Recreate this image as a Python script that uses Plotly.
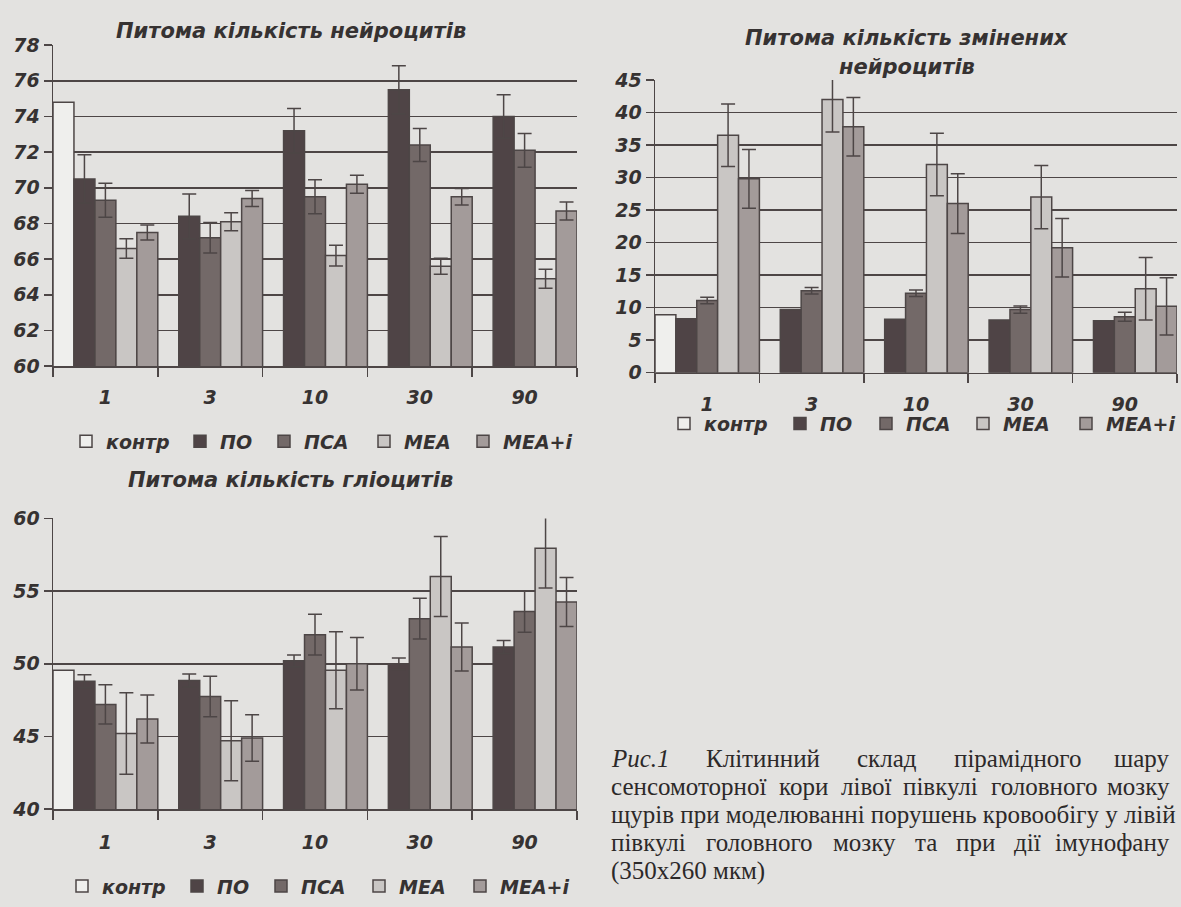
import plotly.graph_objects as go

W, H = 1181, 907

categories = ["1", "3", "10", "30", "90"]
series_names = ["контр", "ПО", "ПСА", "МЕА", "МЕА+і"]
series_colors = ["#efefed", "#4f4446", "#736968", "#c9c6c4", "#a39b9a"]

# Chart 1: Питома кількість нейроцитів
control1 = [74.8, None, None, None, None]
po1 = [70.5, 68.4, 73.2, 75.5, 74.0]
po1_err = [1.35, 1.25, 1.25, 1.35, 1.22]
psa1 = [69.3, 67.2, 69.5, 72.4, 72.1]
psa1_err = [0.95, 0.85, 0.95, 0.93, 0.95]
mea1 = [66.6, 68.1, 66.2, 65.6, 64.9]
mea1_err = [0.55, 0.5, 0.58, 0.45, 0.53]
meai1 = [67.5, 69.4, 70.2, 69.5, 68.7]
meai1_err = [0.42, 0.45, 0.5, 0.46, 0.5]

# Chart 2: Питома кількість змінених нейроцитів
control2 = [8.9, None, None, None, None]
po2 = [8.3, 9.7, 8.2, 8.1, 8.0]
psa2 = [11.1, 12.6, 12.2, 9.7, 8.6]
psa2_err = [0.5, 0.5, 0.5, 0.55, 0.7]
mea2 = [36.5, 42.0, 32.0, 27.0, 12.9]
mea2_err = [4.8, 5.0, 4.8, 4.85, 4.8]
meai2 = [29.8, 37.8, 26.0, 19.2, 10.2]
meai2_err = [4.5, 4.5, 4.6, 4.5, 4.4]

# Chart 3: Питома кількість гліоцитів
control3 = [49.55, None, None, None, None]
po3 = [48.8, 48.85, 50.2, 50.0, 51.15]
po3_err = [0.45, 0.45, 0.4, 0.4, 0.45]
psa3 = [47.2, 47.75, 52.0, 53.1, 53.6]
psa3_err = [1.35, 1.4, 1.4, 1.4, 1.43]
mea3 = [45.2, 44.7, 49.55, 56.0, 57.95]
mea3_err = [2.8, 2.75, 2.65, 2.75, 2.73]
meai3 = [46.2, 44.9, 50.0, 51.15, 54.25]
meai3_err = [1.65, 1.6, 1.8, 1.65, 1.68]

yticks1 = [60, 62, 64, 66, 68, 70, 72, 74, 76, 78]
yticks2 = [0, 5, 10, 15, 20, 25, 30, 35, 40, 45]
yticks3 = [40, 45, 50, 55, 60]

title1 = "Питома кількість нейроцитів"
title2_lines = ["Питома кількість змінених", "нейроцитів"]
title3 = "Питома кількість гліоцитів"

caption_lines = [
    ["<i>Рис.1</i>", "Клітинний", "склад", "пірамідного", "шару"],
    ["сенсомоторної", "кори", "лівої", "півкулі", "головного", "мозку"],
    ["щурів при моделюванні порушень кровообігу у лівій"],
    ["півкулі", "головного", "мозку", "та", "при", "дії", "імунофану"],
    ["(350х260 мкм)"],
]

INK = "#363232"
LINE = "#4d4646"
PAPER = "#e3e2e0"
SANS = "DejaVu Sans, Liberation Sans, Arial, sans-serif"
SERIF = "Liberation Serif, Times New Roman, serif"

fig = go.Figure()

charts = [
    ("x", "y", [control1, po1, psa1, mea1, meai1],
     [None, po1_err, psa1_err, mea1_err, meai1_err]),
    ("x2", "y2", [control2, po2, psa2, mea2, meai2],
     [None, None, psa2_err, mea2_err, meai2_err]),
    ("x3", "y3", [control3, po3, psa3, mea3, meai3],
     [None, po3_err, psa3_err, mea3_err, meai3_err]),
]

# left edge of each legend swatch and the legend row position (pixels)
legend_swatch_x = [[81, 195, 279, 379, 478],
                   [679, 795, 881, 978, 1081],
                   [77, 192, 276, 374, 475]]
legend_row_y = [441, 423, 897]


def legend_id(c, j):
    n = c * 5 + j + 1
    return "legend" if n == 1 else "legend%d" % n


for c, (xa, ya, vals, errs) in enumerate(charts):
    for j, (name, color, v, e) in enumerate(zip(series_names, series_colors, vals, errs)):
        kw = {}
        if e is not None:
            kw["error_y"] = dict(type="data", array=e, visible=True, color=LINE,
                                 thickness=1.5, width=7)
        fig.add_trace(go.Bar(
            x=categories, y=v, name=name, xaxis=xa, yaxis=ya, legend=legend_id(c, j),
            marker=dict(color=color, line=dict(color=LINE, width=1.5)),
            hoverinfo="skip", **kw))


def px_x(p):
    return p / W


def px_y(p):
    return 1 - p / H


tickfont = dict(family=SANS, size=19, color=INK, weight="bold", style="italic")

xcommon = dict(type="category", categoryorder="array", categoryarray=categories,
               showline=True, linecolor=LINE, linewidth=1.5, ticks="outside",
               tickson="boundaries", ticklen=9, tickwidth=1.5, tickcolor=LINE,
               showgrid=False, zeroline=False, tickfont=tickfont, fixedrange=True)
ycommon = dict(showline=True, linecolor=LINE, linewidth=1.5, ticks="outside",
               ticklen=8, tickwidth=1.5, tickcolor=LINE, showgrid=True,
               gridcolor=LINE, gridwidth=1.5, zeroline=False, tickfont=tickfont,
               fixedrange=True)

dom_x_left = [px_x(53), px_x(577)]
dom_x_right = [px_x(655), px_x(1177)]

layout = dict(
    width=W, height=H, margin=dict(l=0, r=0, t=0, b=0),
    paper_bgcolor=PAPER, plot_bgcolor="rgba(0,0,0,0)",
    barmode="group", bargap=0, bargroupgap=0,
    xaxis=dict(domain=dom_x_left, anchor="y", ticklabelstandoff=14, **xcommon),
    yaxis=dict(domain=[px_y(364), px_y(35)], anchor="x", range=[60, 78],
               tickvals=yticks1, **ycommon),
    xaxis2=dict(domain=dom_x_right, anchor="y2", ticklabelstandoff=14, **xcommon),
    yaxis2=dict(domain=[px_y(370.7), px_y(70.7)], anchor="x2", range=[0, 45],
                tickvals=yticks2, **ycommon),
    xaxis3=dict(domain=dom_x_left, anchor="y3", ticklabelstandoff=16, **xcommon),
    yaxis3=dict(domain=[px_y(818), px_y(520)], anchor="x3", range=[40, 60],
                tickvals=yticks3, **ycommon),
    showlegend=True,
)

legfont = dict(family=SANS, size=19, color=INK, weight="bold", style="italic")
for c in range(3):
    for j in range(5):
        layout[legend_id(c, j)] = dict(
            orientation="h", x=px_x(legend_swatch_x[c][j] - 15), xanchor="left",
            y=px_y(legend_row_y[c]), yanchor="middle", bgcolor="rgba(0,0,0,0)",
            font=legfont, itemwidth=30, itemclick=False, itemdoubleclick=False)

fig.update_layout(**layout)

titlefont = dict(family=SANS, size=21, color=INK, weight="bold", style="italic")
for text, cx, cy in [(title1, 291, 21), (title2_lines[0], 907, 28),
                     (title2_lines[1], 907, 57), (title3, 290, 481)]:
    fig.add_annotation(text=text, x=px_x(cx), y=px_y(cy), xref="paper", yref="paper",
                       xanchor="center", yanchor="middle", showarrow=False,
                       font=titlefont, align="center")

# Approximate Times advance widths (per 1000 em) to justify the caption text
TIMES = {
    "а": 444, "б": 509, "в": 472, "г": 410, "д": 509, "е": 444, "ж": 691, "з": 395,
    "и": 535, "й": 535, "к": 486, "л": 499, "м": 633, "н": 535, "о": 500, "п": 535,
    "р": 500, "с": 444, "т": 437, "у": 500, "ф": 648, "х": 500, "ц": 535, "ч": 503,
    "ш": 770, "щ": 770, "ь": 456, "ю": 750, "я": 482, "і": 278, "ї": 278, "є": 440,
    "К": 667, "Р": 611, ".": 250, "1": 500, " ": 250,
}
CAP_SIZE = 25
CAP_LEFT, CAP_RIGHT = 609, 1172
cap_ys = [766, 795, 823, 852, 881]


def word_width(w):
    plain = w.replace("<i>", "").replace("</i>", "")
    return sum(TIMES.get(ch, 500) for ch in plain) * CAP_SIZE / 1000.0


capfont = dict(family=SERIF, size=CAP_SIZE, color="#2c2929")
for i, (words, y) in enumerate(zip(caption_lines, cap_ys)):
    justify = len(words) > 1
    if justify:
        total = sum(word_width(w) for w in words)
        gap = (CAP_RIGHT - CAP_LEFT - total) / (len(words) - 1)
    else:
        gap = 0
    x = CAP_LEFT
    for j, w in enumerate(words):
        last = justify and j == len(words) - 1
        fig.add_annotation(text=w, x=px_x(CAP_RIGHT if last else x), y=px_y(y),
                           xref="paper", yref="paper",
                           xanchor="right" if last else "left", yanchor="middle",
                           showarrow=False, font=capfont)
        x += word_width(w) + gap

fig.write_html("out.html", config={"displayModeBar": False, "staticPlot": True},
               post_script="document.body.style.margin='0';document.body.style.overflow='hidden';document.body.style.background='%s';" % PAPER)
